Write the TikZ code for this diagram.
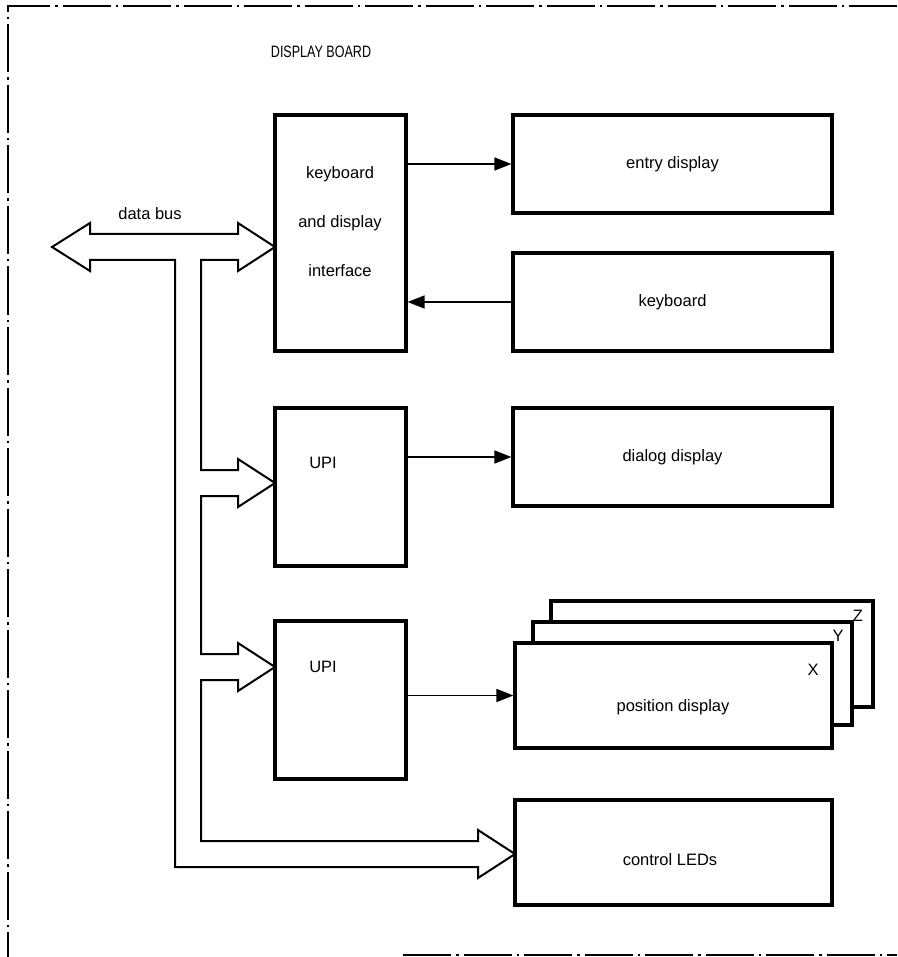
\documentclass[tikz,border=0pt]{standalone}
\usepackage{fontspec}
\setmainfont{Liberation Sans}
\usetikzlibrary{arrows.meta}
\begin{document}
\begin{tikzpicture}[x=1pt,y=-1pt,
  blk/.style={draw, line width=3.2pt, fill=white, inner sep=0pt},
  txt/.style={font=\fontsize{16.5}{19}\selectfont, inner sep=0pt},
  conn/.style={line width=1.6pt, -{Triangle[length=17pt,width=13pt]}},
  busline/.style={line width=2pt, line join=miter},
  border/.style={line width=2.2pt, dash pattern=on 48pt off 5pt on 2.5pt off 5pt}]
\useasboundingbox (0,0) rectangle (897,957);

% board outline
\draw[border] (897,6) -- (8,6) -- (8,957);
\draw[border] (403,955) -- (897,955);
\node[txt, font=\fontsize{16.5}{19}\selectfont] (title) at (321,52) {\scalebox{0.76}[1]{DISPLAY BOARD}};

% blocks
\node[blk, minimum width=131pt, minimum height=236pt] (iface) at (340.5,233) {};
\node[txt, align=center, font=\fontsize{16.5}{49}\selectfont] (ifacetxt) at (340,222) {keyboard\\and display\\interface};
\node[blk, minimum width=319pt, minimum height=98pt, txt] (entry) at (672.5,164) {entry display};
\node[blk, minimum width=319pt, minimum height=98pt, txt] (kbd) at (672.5,302) {keyboard};
\node[blk, minimum width=131pt, minimum height=158pt] (upi1) at (340.5,487) {};
\node[txt] (upi1txt) at (323,463) {UPI};
\node[blk, minimum width=319pt, minimum height=98pt, txt] (dialog) at (672.5,457) {dialog display};
\node[blk, minimum width=131pt, minimum height=158pt] (upi2) at (340.5,700) {};
\node[txt] (upi2txt) at (323,667) {UPI};

% position display stack
\node[blk, minimum width=322pt, minimum height=106pt] (zb) at (712,654) {};
\node[blk, minimum width=319pt, minimum height=103pt] (yb) at (692.5,673.5) {};
\node[blk, minimum width=317pt, minimum height=105pt] (pos) at (673.5,695.5) {};
\node[txt] (postxt) at (673,707) {position display};
\node[txt] (zl) at (858,616) {Z};
\node[txt] (yl) at (838,636) {Y};
\node[txt] (xl) at (813,670) {X};

\node[blk, minimum width=317pt, minimum height=105pt] (led) at (673.5,852.5) {};
\node[txt] (ledtxt) at (670,860) {control LEDs};

% connectors
\draw[conn] (iface.east |- entry.west) -- (entry.west);
\draw[conn] (kbd.west) -- (iface.east |- kbd.west);
\draw[conn] (upi1.east |- dialog.west) -- (dialog.west);
\draw[conn] (upi2.east |- pos.west) -- (pos.west);

% data bus (hollow arrows)
\draw[busline] (90,234) -- (90,223) -- (52,247) -- (90,271) -- (90,260)
  -- (175,260) -- (175,867) -- (478,867) -- (478,878) -- (515,854)
  -- (478,830) -- (478,841) -- (201,841) -- (201,680) -- (238,680)
  -- (238,691) -- (275,667) -- (238,643) -- (238,654) -- (201,654)
  -- (201,496) -- (238,496) -- (238,507) -- (275,483) -- (238,459)
  -- (238,470) -- (201,470) -- (201,260) -- (238,260) -- (238,271)
  -- (275,247) -- (238,223) -- (238,234) -- cycle;
\node[txt] (bustxt) at (150,214) {data bus};
\end{tikzpicture}
\end{document}
